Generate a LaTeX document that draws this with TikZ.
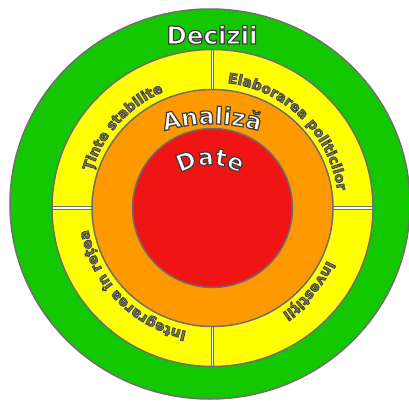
\documentclass[tikz,border=0pt]{standalone}
\usepackage{fontspec}
\setmainfont{DejaVu Sans}
\usetikzlibrary{decorations.text}
\definecolor{cgreen}{HTML}{14C800}
\definecolor{cyellow}{HTML}{FFFF00}
\definecolor{corange}{HTML}{FF9900}
\definecolor{cred}{HTML}{F01414}
\definecolor{rim}{HTML}{6E6E6E}
\definecolor{smallfill}{HTML}{737373}
% outlined glyphs: PDF text render mode 2 (fill + stroke), #1 width, #2 stroke grey level
\newcommand\olstroke[2]{\special{pdf:literal direct 2 Tr #1 w #2 G}}
\newcommand\olreset{\special{pdf:literal direct 0 Tr}}
% #1 cx, #2 cy, #3 mid angle, #4 radius, #5 size, #6 text, #7 fill colour, #8 stroke width, #9 stroke grey
\newcommand\arclabel[9]{%
  \path[decorate,decoration={text along path,text color=#7,text align=center,
      text={|\bfseries\fontsize{#5}{#5}\selectfont\color{#7}\olstroke{#8}{#9}|#6}}]
      ({#1+#4*cos(#3+80)},{#2+#4*sin(#3+80)}) arc[start angle=#3+80,end angle=#3-80,radius=#4];%
}
\tikzset{
  rimline/.style={draw=rim,line width=1.5},
  divout/.style={draw=rim,line width=3.6},
  divin/.style={draw=white,line width=1.7},
}
\begin{document}
\begin{tikzpicture}[x=1pt,y=1pt]
\useasboundingbox (0,0) rectangle (409,405);
\fill[white] (0,0) rectangle (409,405);
% rings
\fill[cgreen,rimline] (210,201) ellipse[x radius=200,y radius=195];
\fill[cyellow] (212.5,197) ellipse[x radius=160.5,y radius=158.5];
% dividers
\coordinate (dl1) at (52,197);   \coordinate (dl2) at (92,197);
\coordinate (dr1) at (333,197);  \coordinate (dr2) at (373,197);
\coordinate (dt1) at (212.5,355.5); \coordinate (dt2) at (212.5,315.5);
\coordinate (db1) at (212.5,38.5);  \coordinate (db2) at (212.5,78.5);
\foreach \p/\q in {dl1/dl2,dr1/dr2,dt1/dt2,db1/db2}{\draw[divout] (\p) -- (\q);}
\foreach \p/\q in {dl1/dl2,dr1/dr2,dt1/dt2,db1/db2}{\draw[divin] (\p) -- (\q);}
\draw[rimline] (212.5,197) ellipse[x radius=160.5,y radius=158.5];
\filldraw[fill=corange,rimline] (212.5,197) ellipse[x radius=120.5,y radius=118.5];
\filldraw[fill=cred,rimline] (212.5,197) ellipse[x radius=80,y radius=79.5];
% Decizii
\node[anchor=base,text=white,inner sep=0,font=\bfseries\fontsize{24.5}{24.5}\selectfont] (dec) at (212,361)
  {\olstroke{1.2}{0.24}Decizii\olreset};
% big curved labels
\arclabel{212}{116}{90}{165}{23.5}{Analiză}{white}{1.2}{0.24}
\arclabel{210}{182}{90}{58}{23.5}{Date}{white}{1.2}{0.24}
% small labels in the yellow ring
\arclabel{212.5}{197}{138}{126}{14}{Ținte stabilite}{smallfill}{0.7}{0.25}
\arclabel{212.5}{197}{45.5}{126}{14}{Elaborarea politicilor}{smallfill}{0.7}{0.25}
\arclabel{212.5}{197}{224}{126}{14}{Integrarea în rețea}{smallfill}{0.7}{0.25}
\arclabel{212.5}{197}{319.5}{126}{14}{Investiții}{smallfill}{0.7}{0.25}
\end{tikzpicture}
\end{document}
